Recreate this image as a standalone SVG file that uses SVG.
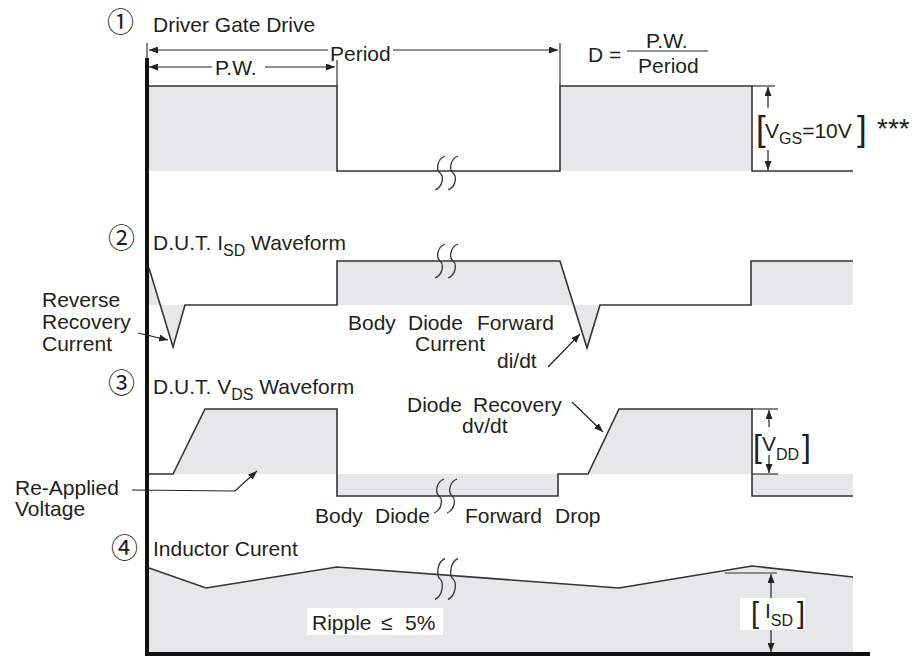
<svg xmlns="http://www.w3.org/2000/svg" xmlns:xlink="http://www.w3.org/1999/xlink" width="918" height="658" viewBox="0 0 918 658">
<style>
text{font-family:"Liberation Sans",Arial,Helvetica,sans-serif;fill:#231f20;font-size:21px}
.num{font-family:"Noto Sans CJK JP","DejaVu Sans",sans-serif;font-size:27px}
.sub{font-size:16px}
.fill{fill:#e6e7e8;stroke:none}
.wave{fill:none;stroke:#333;stroke-width:1.6;stroke-linejoin:miter}
.thin{fill:none;stroke:#333;stroke-width:1.2}
.arr{fill:none;stroke:#222;stroke-width:1.2;marker-end:url(#ah)}
.axis{stroke:#111;stroke-width:4;fill:none}
.brk{fill:none;stroke:#333;stroke-width:1.3}
.wb{fill:#fff;stroke:none}
</style>
<defs>
<marker id="ah" markerUnits="userSpaceOnUse" markerWidth="9" markerHeight="7" refX="9" refY="3.5" orient="auto">
<path d="M0,0 L9,3.5 L0,7 z" fill="#222"/>
</marker>
<g id="brkmark">
<path class="brk" d="M5,-17 C-3,-14 -4,-3 0,0 C4,3 3,14 -5,17"/>
<path class="brk" d="M18,-17 C10,-14 9,-3 13,0 C17,3 16,14 8,17"/>
</g>
</defs>

<g id="fills">
<rect class="fill" x="149" y="86" width="188" height="85"/>
<rect class="fill" x="560" y="86" width="192" height="85"/>
<polygon class="fill" points="149,268 160,305 149,305"/>
<polygon class="fill" points="160,305 173,347 185,305"/>
<polygon class="fill" points="337,261 560,261 574,305 337,305"/>
<polygon class="fill" points="574,305 587,348 600,305"/>
<rect class="fill" x="751" y="261" width="102" height="44"/>
<polygon class="fill" points="173,474 205,409 337,409 337,474"/>
<rect class="fill" x="337" y="474" width="221" height="22"/>
<polygon class="fill" points="588,474 619,409 752,409 752,474"/>
<rect class="fill" x="752" y="474" width="101" height="22"/>
<polygon class="fill" points="149,568 206,588 337,567 619,588 752,566 853,577 853,652 149,652"/>
<rect class="wb" x="307" y="608" width="136" height="27"/>
<rect class="wb" x="740" y="598" width="65" height="32"/>
</g>

<g id="axes">
<line class="axis" x1="147" y1="58" x2="147" y2="656"/>
<line class="axis" x1="145" y1="654" x2="870" y2="654"/>
</g>

<g id="wave1">
<polyline class="wave" points="149,86 337,86 337,171 560,171 560,86 752,86 752,171 853,171"/>
<use xlink:href="#brkmark" href="#brkmark" transform="translate(440,173)"/>
</g>
<g id="wave2">
<polyline class="wave" points="149,268 173,347 185,305 337,305 337,261 560,261 587,348 600,305 751,305 751,261 853,261"/>
<use xlink:href="#brkmark" href="#brkmark" transform="translate(440,261)"/>
</g>
<g id="wave3">
<polyline class="wave" points="149,474 173,474 205,409 337,409 337,496 558,496 558,474 588,474 619,409 752,409 752,496 853,496"/>
<use xlink:href="#brkmark" href="#brkmark" transform="translate(439,496)"/>
</g>
<g id="wave4">
<polyline class="wave" points="149,568 206,588 337,567 619,588 752,566 853,577"/>
<use xlink:href="#brkmark" href="#brkmark" transform="translate(440,579) scale(1,1.2)"/>
</g>

<g id="connectors">
<line class="thin" x1="147" y1="43" x2="147" y2="58"/>
<line class="thin" x1="337" y1="60" x2="337" y2="86"/>
<line class="thin" x1="560" y1="43" x2="560" y2="86"/>
<line class="arr" x1="328" y1="50" x2="149" y2="50"/>
<line class="arr" x1="393" y1="50" x2="558" y2="50"/>
<line class="arr" x1="212" y1="67" x2="149" y2="67"/>
<line class="arr" x1="265" y1="67" x2="335" y2="67"/>
<line class="thin" x1="627" y1="51" x2="708" y2="51"/>
<line class="thin" x1="752" y1="86" x2="775" y2="86"/>
<line class="arr" x1="768" y1="108" x2="768" y2="87"/>
<line class="arr" x1="768" y1="150" x2="768" y2="170"/>
<line class="arr" x1="138" y1="333" x2="168" y2="340"/>
<line class="arr" x1="548" y1="367" x2="580" y2="334"/>
<line class="arr" x1="572" y1="402" x2="603" y2="432"/>
<polyline class="arr" points="132,490 235,491 257,471"/>
<line class="thin" x1="752" y1="409" x2="778" y2="409"/>
<line class="thin" x1="752" y1="474" x2="778" y2="474"/>
<line class="arr" x1="769" y1="427" x2="769" y2="410"/>
<line class="arr" x1="769" y1="455" x2="769" y2="473"/>
<line class="thin" x1="725" y1="573" x2="777" y2="573"/>
<line class="arr" x1="771" y1="598" x2="771" y2="574"/>
<line class="arr" x1="771" y1="630" x2="771" y2="652"/>
</g>

<g id="labels">
<text class="num" x="107" y="32">①</text>
<text x="153" y="32">Driver Gate Drive</text>
<text x="330" y="61">Period</text>
<text x="215" y="75">P.W.</text>
<text x="588" y="62">D =</text>
<text x="646" y="48">P.W.</text>
<text x="638" y="73">Period</text>
<text x="756" y="141" style="font-size:35px">[</text>
<text x="765" y="138">V<tspan class="sub" dy="6">GS</tspan><tspan dy="-6">=10V</tspan></text>
<text x="857" y="141" style="font-size:35px">]</text>
<text x="877" y="138" style="font-size:28px">***</text>

<text class="num" x="108" y="248">②</text>
<text x="153" y="250">D.U.T. I<tspan class="sub" dy="6">SD</tspan><tspan dy="-6"> Waveform</tspan></text>
<text x="42" y="307">Reverse</text>
<text x="42" y="329">Recovery</text>
<text x="42" y="351">Current</text>
<text x="348" y="330">Body</text>
<text x="408" y="330">Diode</text>
<text x="477" y="330">Forward</text>
<text x="415" y="351">Current</text>
<text x="497" y="368">di/dt</text>

<text class="num" x="108" y="393">③</text>
<text x="153" y="394">D.U.T. V<tspan class="sub" dy="6">DS</tspan><tspan dy="-6"> Waveform</tspan></text>
<text x="407" y="412">Diode</text>
<text x="473" y="412">Recovery</text>
<text x="462" y="433">dv/dt</text>
<text x="15" y="495">Re-Applied</text>
<text x="15" y="516">Voltage</text>
<text x="315" y="523">Body</text>
<text x="375" y="523">Diode</text>
<text x="465" y="523">Forward</text>
<text x="555" y="523">Drop</text>
<text x="753" y="457" style="font-size:32px">[</text>
<text x="762" y="451" style="font-size:21px">V<tspan style="font-size:16px" dy="9">DD</tspan></text>
<text x="802" y="457" style="font-size:32px">]</text>

<text class="num" x="111" y="558">④</text>
<text x="153" y="556">Inductor Curent</text>
<text x="312" y="630">Ripple</text>
<text x="381" y="630">≤</text>
<text x="405" y="630">5%</text>
<text x="751" y="623" style="font-size:29px">[</text>
<text x="765" y="618">I<tspan class="sub" dy="8">SD</tspan></text>
<text x="797" y="623" style="font-size:29px">]</text>
</g>
</svg>
